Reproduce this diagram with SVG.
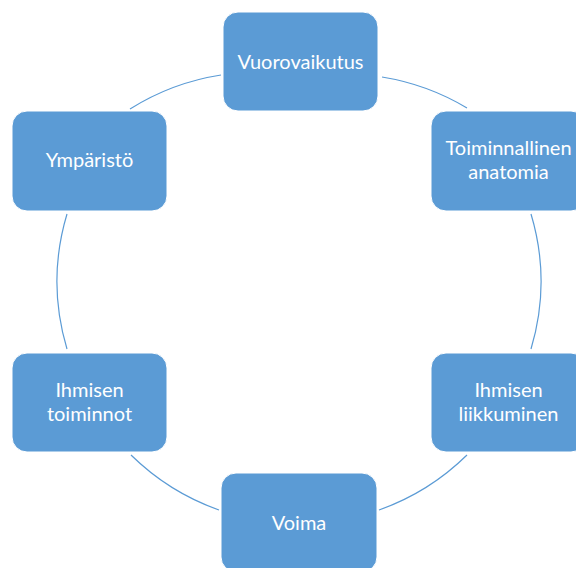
<svg xmlns="http://www.w3.org/2000/svg" width="576" height="568" viewBox="0 0 576 568">
<style>
.node rect{fill:#5B9BD5;stroke:#FFFFFF;stroke-width:1}
.node text{fill:#FFFFFF;font-family:Lato,"Open Sans","Liberation Sans",sans-serif;font-size:20px;text-anchor:middle}
.conn path{fill:none;stroke:#5B9BD5;stroke-width:1.2}
</style>
<rect width="576" height="568" fill="#FFFFFF"/>
<g id="connectors" class="conn">
<path d="M130,109 A240,240 0 0 1 221,75"/>
<path d="M382,77 A240,240 0 0 1 467,108"/>
<path d="M531,214 A235,235 0 0 1 531,349"/>
<path d="M467,455 A240,240 0 0 1 379,510"/>
<path d="M219,510 A240,240 0 0 1 131,455"/>
<path d="M67,349 A235,235 0 0 1 67,214"/>
</g>
<g id="vuorovaikutus" class="node">
<rect x="223" y="12" width="155" height="99" rx="15"/>
<text x="300.5" y="68.5">Vuorovaikutus</text>
</g>
<g id="toiminnallinen-anatomia" class="node">
<rect x="431" y="111" width="155" height="100" rx="15"/>
<text x="508.5" y="155">Toiminnallinen</text>
<text x="508.5" y="179">anatomia</text>
</g>
<g id="ihmisen-liikkuminen" class="node">
<rect x="431" y="353" width="155" height="99" rx="15"/>
<text x="508.5" y="397">Ihmisen</text>
<text x="508.5" y="421">liikkuminen</text>
</g>
<g id="voima" class="node">
<rect x="221" y="473" width="156" height="99" rx="15"/>
<text x="299" y="529.5">Voima</text>
</g>
<g id="ihmisen-toiminnot" class="node">
<rect x="12" y="353" width="155" height="99" rx="15"/>
<text x="89.5" y="397">Ihmisen</text>
<text x="89.5" y="421">toiminnot</text>
</g>
<g id="ymparisto" class="node">
<rect x="12" y="111" width="155" height="100" rx="15"/>
<text x="89.5" y="167">Ympäristö</text>
</g>
</svg>
